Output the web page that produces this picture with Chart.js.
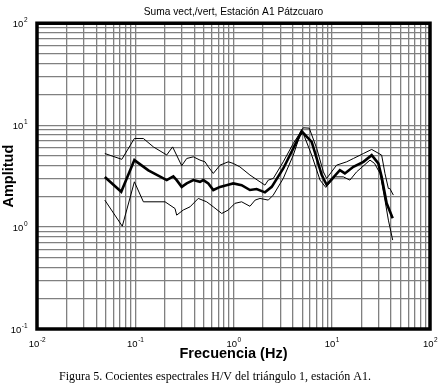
<!DOCTYPE html>
<html>
<head>
<meta charset="utf-8">
<script src="https://cdn.jsdelivr.net/npm/chart.js@4.4.1/dist/chart.umd.min.js"></script>
<style>
body{margin:0;background:#fff}
#wrap{width:442px;height:390px}
</style>
</head>
<body>
<div id="wrap"><canvas id="myChart"></canvas></div>
<script>
// H/V curves (frecuencia in Hz, amplitud)
const freqMean=[0.049,0.072,0.098,0.136,0.209,0.244,0.264,0.297,0.334,0.39,0.456,0.493,0.554,0.623,0.729,0.885,0.995,1.21,1.47,1.72,2.09,2.45,3.21,4.06,4.94,6.25,7.91,8.87,12.1,13.6,16.6,21,25.5,29.8,32.2,36.2,41.7]
const ampMean=[3.1,2.22,4.54,3.6,2.89,3.15,2.89,2.48,2.68,2.89,2.78,2.89,2.68,2.31,2.48,2.6,2.68,2.58,2.31,2.36,2.19,2.48,3.76,5.92,8.7,6.86,3.24,2.6,3.62,3.36,3.9,4.37,5.08,4.21,3.11,1.71,1.22]

const freqUpper=[0.049,0.073,0.098,0.121,0.153,0.209,0.24,0.297,0.334,0.39,0.456,0.513,0.554,0.623,0.729,0.885,0.995,1.16,1.47,1.86,2.09,2.26,2.54,3.21,4.06,5.13,5.9,7.03,8.22,8.87,11.2,14.2,16.6,21,25.5,32.2,34.8,37.7,39,42.4]
const ampUpper=[5.27,4.62,7.4,7.4,6.12,5.1,6.12,4.0,4.71,4.89,4.54,4.37,3.9,3.36,4.05,4.37,4.21,3.9,3.24,2.78,2.58,2.89,3.0,4.37,6.61,9.42,9.35,5.92,3.48,3.0,4.05,4.37,4.71,5.27,5.78,5.08,3.36,2.39,2.39,2.06]

const freqLower=[0.049,0.0738,0.098,0.121,0.201,0.254,0.264,0.308,0.361,0.438,0.533,0.623,0.759,0.885,1.035,1.21,1.47,1.66,1.86,2.26,2.54,3.21,4.06,4.75,5.13,6.25,7.6,8.7,10.8,13.1,15.3,17.9,24.5,27.3,31,34.8,37.7,41.7]
const ampLower=[1.84,1.02,2.78,1.77,1.77,1.52,1.31,1.47,1.58,1.91,1.77,1.58,1.36,1.47,1.71,1.77,1.6,1.84,1.91,1.84,2.06,3.0,5.08,7.98,8.27,5.08,2.89,2.45,3.11,3.11,2.89,3.48,4.54,4.21,3.36,1.84,1.17,0.746]

// axes: decades get a "10^n" label, grid also at 2..9 inside each decade
const xDecades=[0.01,0.1,1,10,100]
const xExponents=['-2','-1','0','1','2']
const yDecades=[0.1,1,10,100]
const yExponents=['-1','0','1','2']
const minorSteps=[2,3,4,5,6,7,8,9]

const sans='"Liberation Sans", Arial, sans-serif'

function pts(f,a){ return f.map((v,i)=>({x:v,y:a[i]})) }

function gridTicks(decades){
  let t=[]
  decades.forEach((d,i)=>{
    t.push({value:d})
    if(i<decades.length-1) minorSteps.forEach(m=>t.push({value:d*m}))
  })
  return t
}

// draws "10" with a small raised exponent
function powerLabel(ctx,exp,x,baseline,align){
  ctx.font='9.5px '+sans
  const w1=ctx.measureText('10').width
  ctx.font='6.5px '+sans
  const w2=ctx.measureText(exp).width
  let start=align==='right'? x-w1-w2 : x-(w1+w2)/2
  ctx.font='9.5px '+sans
  ctx.fillText('10',start,baseline)
  ctx.font='6.5px '+sans
  ctx.fillText(exp,start+w1+0.5,baseline-5)
}

const framePlugin={
  id:'frame',
  afterDraw(chart){
    const {ctx,chartArea:{left,top,right,bottom}}=chart
    ctx.save()
    ctx.strokeStyle='#000'
    ctx.lineWidth=3.5
    ctx.strokeRect(left,top,right-left,bottom-top)

    ctx.fillStyle='#000'
    ctx.textAlign='left'
    ctx.textBaseline='alphabetic'
    const xs=chart.scales.x, ys=chart.scales.y
    xDecades.forEach((d,i)=>{
      powerLabel(ctx,xExponents[i],xs.getPixelForValue(d),347,'center')
    })
    yDecades.forEach((d,i)=>{
      powerLabel(ctx,yExponents[i],27,ys.getPixelForValue(d)+3.5,'right')
    })
    ctx.restore()
  }
}

const ctx=document.getElementById('myChart')
new Chart(ctx,{
  type:'line',
  data:{
    datasets:[
      {data:pts(freqUpper,ampUpper),borderColor:'#000',borderWidth:1,pointRadius:0,tension:0},
      {data:pts(freqLower,ampLower),borderColor:'#000',borderWidth:1,pointRadius:0,tension:0},
      {data:pts(freqMean,ampMean),borderColor:'#000',borderWidth:2.6,pointRadius:0,tension:0}
    ]
  },
  options:{
    responsive:true,
    maintainAspectRatio:false,
    animation:false,
    devicePixelRatio:1,
    layout:{padding:{left:0,right:12,top:0,bottom:0}},
    plugins:{
      legend:{display:false},
      tooltip:{enabled:false},
      title:{
        display:true,
        text:'Suma vect,/vert, Estación A1 Pátzcuaro',
        fullSize:false,
        color:'#000',
        font:{family:sans,size:10.2,weight:'normal'},
        padding:{top:6,bottom:5}
      },
      subtitle:{
        display:true,
        position:'bottom',
        text:'Figura 5. Cocientes espectrales H/V del triángulo 1, estación A1.',
        color:'#000',
        font:{family:'"Liberation Serif", "Times New Roman", serif',size:12},
        padding:{top:0,bottom:6}
      }
    },
    scales:{
      x:{
        type:'logarithmic',
        min:0.01,
        max:100,
        afterBuildTicks:(scale)=>{scale.ticks=gridTicks(xDecades)},
        afterFit:(scale)=>{scale.height=40.6},
        grid:{color:'#808080',lineWidth:1.3,drawTicks:false},
        border:{display:false},
        ticks:{display:false},
        title:{display:true,text:'Frecuencia (Hz)',color:'#000',
          font:{family:sans,size:14.5,weight:'bold'},padding:{top:0,bottom:7}}
      },
      y:{
        type:'logarithmic',
        min:0.1,
        max:100,
        afterBuildTicks:(scale)=>{scale.ticks=gridTicks(yDecades)},
        afterFit:(scale)=>{scale.width=37},
        grid:{color:'#808080',lineWidth:1.3,drawTicks:false},
        border:{display:false},
        ticks:{display:false},
        title:{display:true,text:'Amplitud',color:'#000',
          font:{family:sans,size:14.5,weight:'bold'},padding:{top:0,bottom:0}}
      }
    }
  },
  plugins:[framePlugin]
})
</script>
</body>
</html>
